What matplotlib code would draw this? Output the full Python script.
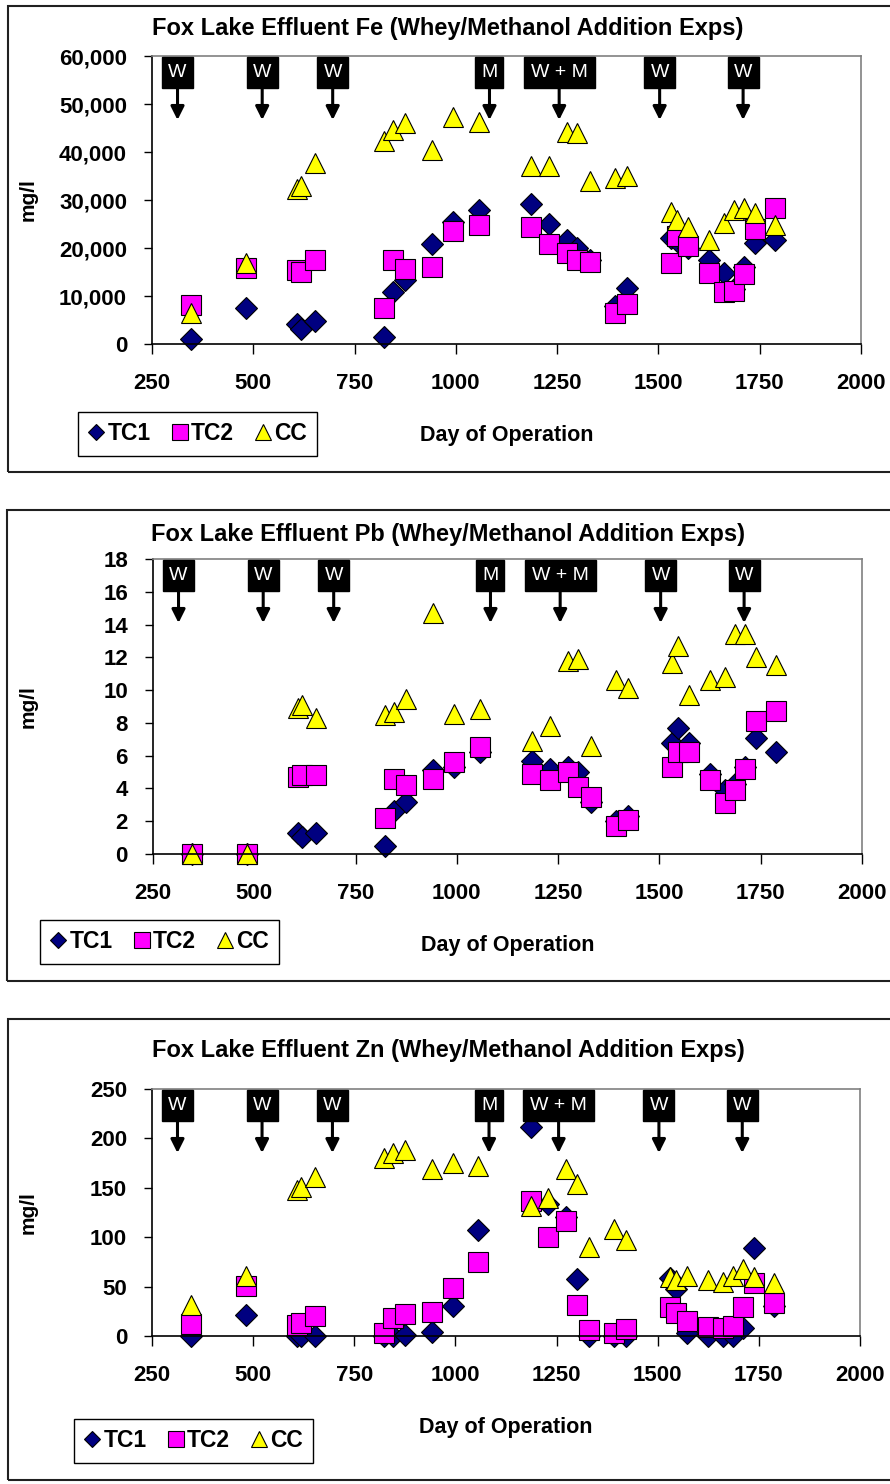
import matplotlib
matplotlib.use("Agg")
import matplotlib.pyplot as plt
import matplotlib.transforms as mtransforms
from matplotlib.patches import Rectangle
from matplotlib.lines import Line2D
from matplotlib.ticker import FuncFormatter

plt.rcParams['font.family'] = ['Liberation Sans', 'DejaVu Sans']
plt.rcParams['font.weight'] = 'bold'
plt.rcParams['axes.labelweight'] = 'bold'

# sampling days shared by all three metals
days = [347, 483, 609, 618, 653, 823, 845, 875, 941, 994, 1056, 1186, 1230, 1274,
        1300, 1330, 1393, 1422, 1530, 1545, 1572, 1625, 1662, 1687, 1710, 1738, 1787]

fe_tc1 = [1000, 7400, 4200, 3200, 4700, 1500, 10900, 13300, 20800, 25500, 27900, 29200, 25100, 21700,
          20000, 17500, 8000, 11600, 22000, 21500, 20000, 17500, 14700, 11500, 16100, 21000, 21700]
fe_tc2 = [8100, 15800, 15400, 14900, 17400, 7400, 17400, 15600, 16100, 23600, 24800, 24400, 20800, 18900,
          17600, 17000, 6400, 8300, 16900, 22400, 20400, 14700, 10800, 11100, 14500, 23900, 28300]
fe_cc = [6500, 16900, 32200, 33000, 37800, 42200, 44600, 46000, 40400, 47200, 46200, 37100, 37100, 44200,
         44000, 34000, 34650, 35000, 27600, 25800, 24300, 21700, 25300, 27900, 28400, 27200, 24800]

pb_tc1 = [0, 0, 1.26, 1.06, 1.26, 0.49, 2.6, 3.16, 5.1, 5.3, 6.2, 5.7, 5.2, 5.3,
          5.0, 3.2, 2.0, 2.3, 6.8, 7.7, 6.8, 4.9, 3.9, 4.3, 5.3, 7.1, 6.2]
pb_tc2 = [0, 0, 4.7, 4.8, 4.8, 2.2, 4.6, 4.2, 4.6, 5.6, 6.5, 4.9, 4.5, 5.0,
          4.1, 3.5, 1.7, 2.1, 5.3, 6.25, 6.2, 4.5, 3.1, 3.9, 5.2, 8.1, 8.7]
pb_cc = [0, 0, 8.9, 9.1, 8.3, 8.5, 8.65, 9.45, 14.7, 8.55, 8.85, 6.9, 7.8, 11.75,
         11.9, 6.6, 10.6, 10.1, 11.65, 12.7, 9.7, 10.6, 10.8, 13.4, 13.4, 12.0, 11.55]

zn_tc1 = [0, 21, 0, 0, 0, 0, 0, 1, 4, 30, 107, 212, 134, 120,
          58, 0, 0, 0, 59, 48, 3, 0, 0, 0, 8, 89, 30]
zn_tc2 = [12, 51, 11, 13, 20, 3, 18, 22, 24, 49, 75, 137, 100, 116,
          31, 6, 3, 7, 29, 23, 15, 9, 8, 10, 29, 54, 33]
zn_cc = [31, 61, 148, 151, 161, 180, 185, 188, 169, 175, 172, 132, 140, 169,
         154, 90, 108, 97, 60, 57, 61, 57, 55, 61, 68, 60, 54]

# whey / methanol additions
event_days = [313, 522, 696, 1083, 1255, 1503, 1709]
event_labels = ['W', 'W', 'W', 'M', 'W + M', 'W', 'W']
event_widths = [31, 31, 31, 28, 71, 31, 31]   # box widths, px

W, H = 890, 1484
fig = plt.figure(figsize=(W / 100, H / 100), dpi=100)

panels = [
    dict(metal='Fe', tc1=fe_tc1, tc2=fe_tc2, cc=fe_cc, ymax=60000, ystep=10000, comma=True,
         box=(152, 56, 861, 344), border=(8, 6, 896, 472), title_y=28, legend=(78, 412)),
    dict(metal='Pb', tc1=pb_tc1, tc2=pb_tc2, cc=pb_cc, ymax=18, ystep=2, comma=False,
         box=(153, 559, 862, 854), border=(7, 510, 896, 981), title_y=534, legend=(40, 920)),
    dict(metal='Zn', tc1=zn_tc1, tc2=zn_tc2, cc=zn_cc, ymax=250, ystep=50, comma=False,
         box=(152, 1089, 860, 1336), border=(8, 1019, 896, 1480), title_y=1050, legend=(74, 1419)),
]

series_style = [
    ('TC1', 'D', '#000080', 11),
    ('TC2', 's', '#FF00FF', 15),
    ('CC', '^', '#FFFF00', 15),
]

for p in panels:
    # outer frame of each chart
    bx0, by0, bx1, by1 = p['border']
    fig.patches.append(Rectangle((bx0 / W, 1 - by1 / H), (bx1 - bx0) / W, (by1 - by0) / H,
                                 transform=fig.transFigure, fill=False, edgecolor='#202020',
                                 linewidth=1.5))

    l, t, r, b = p['box']
    ax = fig.add_axes([l / W, 1 - b / H, (r - l) / W, (b - t) / H])

    for (name, mk, col, ms), vals in zip(series_style, [p['tc1'], p['tc2'], p['cc']]):
        ax.plot(days, vals, linestyle='none', marker=mk, markersize=ms, markerfacecolor=col,
                markeredgecolor='black', markeredgewidth=0.8, clip_on=False, label=name)

    ax.set_xlim(250, 2000)
    ax.set_ylim(0, p['ymax'])
    ax.set_xticks(range(250, 2001, 250))
    ax.set_yticks([v * p['ystep'] for v in range(int(p['ymax'] / p['ystep']) + 1)])
    if p['comma']:
        ax.yaxis.set_major_formatter(FuncFormatter(lambda v, pos: f'{int(v):,}'))
    ax.tick_params(axis='x', direction='out', length=7, width=1, pad=14, labelsize=16)
    ax.tick_params(axis='y', direction='out', length=6, width=1, pad=12, labelsize=16)

    for s in ['left', 'bottom']:
        ax.spines[s].set_color('black')
        ax.spines[s].set_linewidth(1.2)
    for s in ['top', 'right']:
        ax.spines[s].set_color('#808080')
        ax.spines[s].set_linewidth(1.2)

    ax.set_ylabel('mg/l', fontsize=15)
    ax.yaxis.set_label_coords(-(l - 38) / (r - l), 0.5)
    ax.set_xlabel('Day of Operation', fontsize=15.5)
    ax.xaxis.set_label_coords(0.5, -81 / (b - t))

    fig.text(448 / W, 1 - p['title_y'] / H,
             f"Fox Lake Effluent {p['metal']} (Whey/Methanol Addition Exps)",
             ha='center', va='center', fontsize=17)

    # event markers: black label box with a down arrow
    ax_h = b - t
    px_per_day = (r - l) / 1750
    trans = mtransforms.blended_transform_factory(ax.transData, ax.transAxes)
    gap, bh, tip = 1 / ax_h, 31 / ax_h, 64 / ax_h
    for d, lab, wpx in zip(event_days, event_labels, event_widths):
        wd = wpx / px_per_day
        ax.add_patch(Rectangle((d - wd / 2, 1 - gap - bh), wd, bh, transform=trans,
                               facecolor='black', edgecolor='black', clip_on=False, zorder=6))
        ax.text(d, 1 - gap - bh / 2, lab, transform=trans, color='white', ha='center',
                va='center', fontsize=14, fontweight='normal', zorder=7)
        ax.annotate('', xy=(d, 1 - tip), xytext=(d, 1 - gap - bh),
                    xycoords=('data', 'axes fraction'), textcoords=('data', 'axes fraction'),
                    arrowprops=dict(arrowstyle='-|>', color='black', lw=2.2,
                                    mutation_scale=20, shrinkA=0, shrinkB=0), zorder=6)

    legend_sizes = [7.7, 11, 11.5]
    handles = [Line2D([], [], linestyle='none', marker=mk, markersize=lms,
                      markerfacecolor=col, markeredgecolor='black', markeredgewidth=0.8)
               for (name, mk, col, ms), lms in zip(series_style, legend_sizes)]
    lx, ly = p['legend']
    leg = ax.legend(handles, [s[0] for s in series_style], loc='upper left',
                    bbox_to_anchor=(lx / W, 1 - ly / H), bbox_transform=fig.transFigure,
                    ncol=3, fancybox=False, edgecolor='black', framealpha=1,
                    handlelength=0.7, handletextpad=0.15, columnspacing=0.9,
                    borderpad=0.45, borderaxespad=0, prop=dict(weight='bold', size=16.5))
    leg.get_frame().set_linewidth(1.0)

fig.savefig('out.png', dpi=100, facecolor='white')
